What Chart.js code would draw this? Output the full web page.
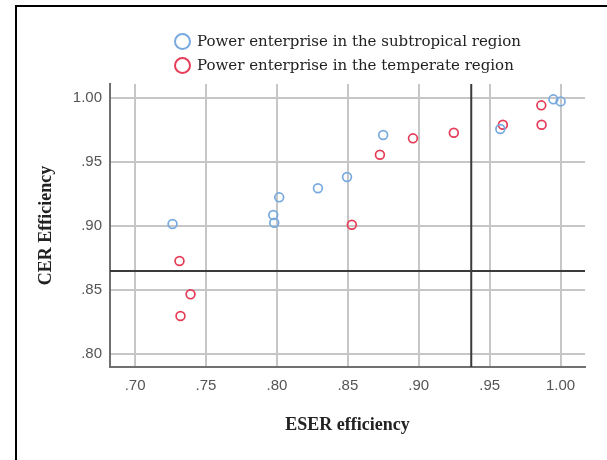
<!DOCTYPE html>
<html>
<head>
<meta charset="utf-8">
<script src="https://cdn.jsdelivr.net/npm/chart.js@4.4.0/dist/chart.umd.min.js"></script>
<style>
    html, body { margin: 0; padding: 0; background: #ffffff; overflow: hidden; }
    #wrap { position: relative; width: 607px; height: 460px; }
    #frame {
        position: absolute; left: 15px; top: 5px; width: 800px; height: 800px;
        border-left: 2px solid #000; border-top: 2px solid #000;
    }
    #chart { position: absolute; left: 0; top: 0; }
    #legend {
        position: absolute; left: 174px; top: 29px;
        font-family: 'DejaVu Serif', serif; font-size: 15px; color: #222;
    }
    .legend-item { display: flex; align-items: center; height: 24px; }
    .legend-dot {
        box-sizing: border-box; width: 17px; height: 17px; border-radius: 50%;
        border: 2px solid; margin-right: 6px;
    }
</style>
</head>
<body>
<div id="wrap">
    <div id="frame"></div>
    <canvas id="chart" width="607" height="460"></canvas>
    <div id="legend"></div>
</div>
<script>
// Power enterprise in the subtropical region
const subtropicalX = [0.7264, 0.7974, 0.7981, 0.8016, 0.8289, 0.8494, 0.8749, 0.9575, 0.9949, 1.0000];
const subtropicalY = [0.9016, 0.9086, 0.9026, 0.9224, 0.9295, 0.9383, 0.9711, 0.9758, 0.9990, 0.9974];

// Power enterprise in the temperate region
const temperateX = [0.7313, 0.7391, 0.7320, 0.8528, 0.8726, 0.8959, 0.9247, 0.9593, 0.9864, 0.9866];
const temperateY = [0.8727, 0.8466, 0.8297, 0.9010, 0.9557, 0.9685, 0.9729, 0.9791, 0.9943, 0.9791];

const xTicks = [0.70, 0.75, 0.80, 0.85, 0.90, 0.95, 1.00];
const yTicks = [0.80, 0.85, 0.90, 0.95, 1.00];

// reference lines (mean values)
const refX = 0.937;
const refY = 0.8648;

const COLORS = {
    subtropical: '#78aae0',
    temperate: '#e63c57',
    grid: '#c6c6c6',
    axis: '#707070',
    ref: '#3a3a3a'
};

function toPoints(xs, ys) {
    return xs.map((x, i) => ({ x: x, y: ys[i] }));
}

function fmtTick(v) {
    const s = Number(v).toFixed(2);
    return v < 1 ? s.replace(/^0/, '') : s;
}

const refLines = {
    id: 'refLines',
    afterDatasetsDraw(chart) {
        const { ctx, chartArea, scales } = chart;
        const px = scales.x.getPixelForValue(refX);
        const py = scales.y.getPixelForValue(refY);
        ctx.save();
        ctx.strokeStyle = COLORS.ref;
        ctx.lineWidth = 2;
        ctx.beginPath();
        ctx.moveTo(chartArea.left, py);
        ctx.lineTo(chartArea.right, py);
        ctx.moveTo(px, chartArea.top);
        ctx.lineTo(px, chartArea.bottom);
        ctx.stroke();
        ctx.restore();
    }
};

const tickFont = { family: "'Liberation Sans', sans-serif", size: 15 };
const titleFont = { family: "'Liberation Serif', serif", size: 18, weight: 'bold' };

new Chart(document.getElementById('chart'), {
    type: 'scatter',
    data: {
        datasets: [
            {
                label: 'Power enterprise in the subtropical region',
                data: toPoints(subtropicalX, subtropicalY),
                borderColor: COLORS.subtropical,
                backgroundColor: 'transparent',
                borderWidth: 1.7,
                pointRadius: 4.4,
                pointHoverRadius: 4.4
            },
            {
                label: 'Power enterprise in the temperate region',
                data: toPoints(temperateX, temperateY),
                borderColor: COLORS.temperate,
                backgroundColor: 'transparent',
                borderWidth: 1.7,
                pointRadius: 4.4,
                pointHoverRadius: 4.4
            }
        ]
    },
    options: {
        responsive: false,
        animation: false,
        layout: { padding: { top: 84, right: 22, left: 0, bottom: 0 } },
        plugins: {
            legend: { display: false },
            tooltip: { enabled: false }
        },
        scales: {
            x: {
                type: 'linear',
                min: 0.6823,
                max: 1.0172,
                afterBuildTicks: (scale) => { scale.ticks = xTicks.map(v => ({ value: v })); },
                afterFit: (scale) => { scale.height = 93; },
                ticks: {
                    color: '#555555',
                    font: tickFont,
                    padding: 10,
                    maxRotation: 0,
                    callback: (v) => fmtTick(v)
                },
                grid: { color: COLORS.grid, lineWidth: 2, drawTicks: false },
                border: { color: COLORS.axis, width: 2 },
                title: {
                    display: true,
                    text: 'ESER efficiency',
                    color: '#222222',
                    font: titleFont,
                    padding: { top: 0, bottom: 24 }
                }
            },
            y: {
                type: 'linear',
                min: 0.7898,
                max: 1.011,
                afterBuildTicks: (scale) => { scale.ticks = yTicks.map(v => ({ value: v })); },
                afterFit: (scale) => { scale.width = 110; },
                ticks: {
                    color: '#555555',
                    font: tickFont,
                    padding: 8,
                    callback: (v) => fmtTick(v)
                },
                grid: { color: COLORS.grid, lineWidth: 2, drawTicks: false },
                border: { color: COLORS.axis, width: 2 },
                title: {
                    display: true,
                    text: 'CER Efficiency',
                    color: '#222222',
                    font: titleFont,
                    padding: { top: 36, bottom: 0 }
                }
            }
        }
    },
    plugins: [refLines]
});

// HTML legend
const legendBox = document.getElementById('legend');
[
    { label: 'Power enterprise in the subtropical region', color: COLORS.subtropical },
    { label: 'Power enterprise in the temperate region', color: COLORS.temperate }
].forEach(item => {
    const row = document.createElement('div');
    row.className = 'legend-item';
    row.innerHTML = `<span class="legend-dot" style="border-color:${item.color}"></span><span>${item.label}</span>`;
    legendBox.appendChild(row);
});
</script>
</body>
</html>
